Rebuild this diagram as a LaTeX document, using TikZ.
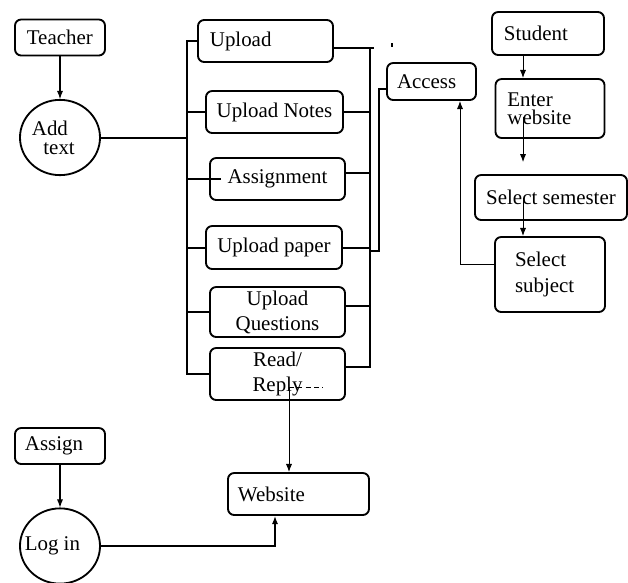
\documentclass[tikz,border=0pt]{standalone}
\usepackage{fontspec}
\setmainfont{Liberation Serif}
\usetikzlibrary{arrows.meta,shapes.geometric}
\begin{document}
\begin{tikzpicture}[x=0.021cm,y=-0.021cm,
  font=\fontsize{12.5}{15}\selectfont,
  box/.style={draw,line width=1.1pt,rounded corners=0.13cm,inner xsep=0.25cm,inner ysep=0pt,align=left},
  cbox/.style={box,inner xsep=0.05cm,align=center},
  oval/.style={draw,ellipse,line width=1.1pt,inner sep=0pt,align=left,minimum width=1.68cm,minimum height=1.58cm},
  bus/.style={line width=1.2pt},
  arr/.style={line width=0.6pt,-{Latex[length=1.7mm,width=1.3mm]}}]
\useasboundingbox (0,0) rectangle (628,582);
\node[box,text width=1.39cm,minimum height=0.756cm] (teacher) at (60,37.5) {Teacher};
\node[oval,text width=1.18cm,font=\fontsize{12.5}{11.5}\selectfont] (addtext) at (60,137.5) {Add\\\hspace{0.55em}text};
\node[box,text width=2.335cm,minimum height=0.882cm] (upload) at (265.5,41) {Upload};
\node[cbox,minimum width=2.877cm,minimum height=0.882cm] (notes) at (274.5,112) {Upload Notes};
\node[cbox,minimum width=2.835cm,minimum height=0.882cm] (assignment) at (277.5,179) {Assignment};
\node[cbox,minimum width=2.856cm,minimum height=0.903cm] (paper) at (274,247.5) {Upload paper};
\node[cbox,minimum width=2.835cm,minimum height=1.05cm] (questions) at (277.5,312) {Upload\\Questions};
\node[cbox,minimum width=2.835cm,minimum height=1.092cm] (reply) at (277.5,374) {Read/\\Reply};
\node[box,inner xsep=0.21cm,text width=1.449cm,minimum height=0.777cm] (access) at (431.5,81.5) {Access};
\node[box,text width=1.852cm,minimum height=0.903cm] (student) at (548,33.5) {Student};
\node[box,text width=1.789cm,minimum height=1.239cm,font=\fontsize{12.5}{11}\selectfont] (enter) at (550,108.5) {Enter\\website};
\node[cbox,minimum width=3.192cm,minimum height=0.945cm] (semester) at (551,197.5) {Select semester};
\node[box,inner xsep=0.42cm,text width=1.47cm,minimum height=1.575cm,font=\fontsize{12.5}{16}\selectfont] (subject) at (550,274.5) {Select\\subject};
\node[box,inner xsep=0.21cm,text width=2.541cm,minimum height=0.882cm] (website) at (298.5,494) {Website};
\node[box,inner xsep=0.21cm,text width=1.47cm,minimum height=0.756cm] (assign) at (60,446) {Assign};
\node[oval] (login) at (60,546) {\makebox[0pt]{\hspace*{-0.32cm}Log in}};

\draw[arr] (teacher) -- (addtext);
\draw[arr] (assign) -- (login);

\coordinate (lbus) at (187,0);
\draw[bus] (addtext.east) -- (addtext.east -| lbus);
\draw[bus] (upload.west) -- (upload.west -| lbus) -- (reply.west -| lbus) -- (reply.west);
\draw[bus] (notes.west) -- (notes.west -| lbus);
\draw[bus] (assignment.west -| lbus) -- ([xshift=0.25cm]assignment.west);
\draw[bus] (paper.west) -- (paper.west -| lbus);
\draw[bus] (questions.west) -- (questions.west -| lbus);

\coordinate (rbus) at (370,0);
\coordinate (rtick) at (374,0);
\coordinate (utop) at ([yshift=-0.147cm]upload.east);
\coordinate (rbot) at ([yshift=0.147cm]reply.east);
\coordinate (aseast) at ([yshift=0.126cm]assignment.east);
\coordinate (qeast) at ([yshift=0.126cm]questions.east);
\draw[bus] (utop) -- (utop -| rtick);
\draw[bus] (utop -| rbus) -- (rbot -| rbus) -- (rbot);
\draw[bus] (notes.east) -- (notes.east -| rbus);
\draw[bus] (aseast) -- (aseast -| rbus);
\draw[bus] (paper.east) -- (paper.east -| rbus);
\draw[bus] (qeast) -- (qeast -| rbus);
\draw[bus] (392,43) -- (392,47);

\coordinate (abus) at (379,251);
\coordinate (accin) at ([yshift=-0.16cm]access.west);
\draw[bus] (abus -| rbus) -- (abus) |- (accin);

\coordinate (sline) at (523,0);
\coordinate (ein) at ([yshift=-0.18cm]enter.center);
\coordinate (sout) at ([yshift=0.25cm]semester.north);
\draw[arr] (sline |- student.south) -- (sline |- enter.north);
\draw[arr] (sline |- ein) -- (sline |- sout);
\draw[arr] (sline |- semester.center) -- (sline |- subject.north);
\coordinate (aline) at (460,0);
\coordinate (subout) at ([yshift=0.22cm]subject.west);
\draw[arr] (subout) -| (aline |- access.south);

\coordinate (rline) at (289,387);
\coordinate (rdash) at (323,387);
\draw[line width=0.6pt,dash pattern=on 3pt off 2pt] (rline) -- (rdash);
\draw[arr] (rline) -- (rline |- website.north);
\coordinate (wline) at (275,0);
\draw[arr,line width=0.9pt] (login.east) -| (wline |- website.south);
\end{tikzpicture}
\end{document}
